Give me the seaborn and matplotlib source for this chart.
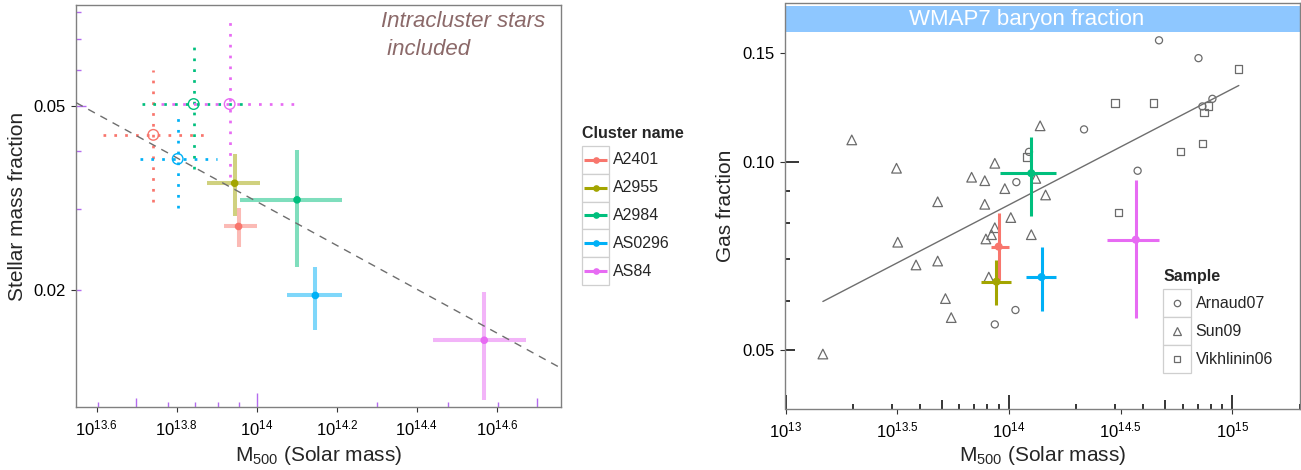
"""Stellar and gas mass fractions against M500 for five galaxy clusters."""

import math

import matplotlib

matplotlib.use("Agg")
import matplotlib.pyplot as plt
import pandas as pd
import seaborn as sns
from matplotlib.patches import Rectangle
from matplotlib.ticker import NullLocator

# the five clusters, same order in both panels
clusters = ["A2401", "A2955", "A2984", "AS0296", "AS84"]
cluster_colors = ["#F8766D", "#A3A500", "#00BF7D", "#00B0F6", "#E76BF3"]

m500 = [9.0e13, 8.8e13, 1.26e14, 1.40e14, 3.70e14]
m500_lo = [8.3e13, 7.5e13, 9.1e13, 1.19e14, 2.75e14]
m500_hi = [1.00e14, 1.02e14, 1.63e14, 1.63e14, 4.70e14]

# stellar fraction, galaxies only
fstar = [0.0275, 0.0341, 0.0314, 0.0195, 0.0156]
fstar_lo = [0.0248, 0.0289, 0.0225, 0.0164, 0.0116]
fstar_hi = [0.0301, 0.0394, 0.0403, 0.0225, 0.0198]

# stellar fraction with intracluster light (no value for A2955)
icl_clusters = ["A2401", "A2984", "AS0296", "AS84"]
icl_m500 = [5.51e13, 6.95e13, 6.34e13, 8.55e13]
icl_m500_lo = [4.13e13, 5.15e13, 5.09e13, 5.77e13]
icl_m500_hi = [7.43e13, 9.48e13, 7.94e13, 1.28e14]
icl_fstar = [0.0434, 0.0506, 0.0385, 0.0506]
icl_fstar_lo = [0.0311, 0.0367, 0.0301, 0.0352]
icl_fstar_hi = [0.0600, 0.0698, 0.0488, 0.0762]

# gas fraction
fgas = [0.0733, 0.0644, 0.0961, 0.0655, 0.0752]
fgas_lo = [0.0649, 0.0591, 0.0821, 0.0577, 0.0563]
fgas_hi = [0.0829, 0.0697, 0.1100, 0.0731, 0.0937]

# literature samples
arnaud_m500 = [4.70e14, 7.06e14, 7.35e14, 8.15e14, 2.17e14, 1.23e14, 3.77e14, 1.08e14, 8.65e13, 1.07e14]
arnaud_fgas = [0.157, 0.147, 0.123, 0.1265, 0.113, 0.104, 0.097, 0.093, 0.055, 0.058]
sun_m500 = [1.98e13, 3.14e13, 8.65e13, 6.81e13, 7.80e13, 4.80e13, 7.80e13, 3.18e13,
            3.84e13, 4.80e13, 7.89e13, 8.36e13, 8.65e13, 8.13e13, 5.20e13, 5.52e13,
            1.47e13, 9.59e13, 1.46e14, 1.02e14, 1.26e14, 1.38e14, 1.32e14]
sun_fgas = [0.1087, 0.0979, 0.0997, 0.0947, 0.0935, 0.0865, 0.0857, 0.0745,
            0.0685, 0.0695, 0.0754, 0.0766, 0.0786, 0.0655, 0.0605, 0.0564,
            0.0493, 0.0908, 0.0887, 0.0816, 0.0766, 0.1145, 0.0943]
vikh_m500 = [2.99e14, 4.45e14, 7.83e14, 7.46e14, 1.20e14, 5.87e14, 7.36e14, 3.10e14, 1.07e15]
vikh_fgas = [0.1245, 0.1245, 0.1232, 0.1202, 0.1021, 0.1041, 0.1072, 0.0832, 0.1412]
samples = ["Arnaud07", "Sun09", "Vikhlinin06"]
sample_markers = ["o", "^", "s"]

# log-log fits: log10 f = a + b * (log10 M - 14)
fstar_fit = (-1.507, -0.474)
fgas_fit = (-1.068, 0.186)

wmap7_band = (0.162, 0.178)
left_xtick_exp = ["13.6", "13.8", "14", "14.2", "14.4", "14.6"]
left_yticks = [0.02, 0.05]
right_xtick_exp = ["13", "13.5", "14", "14.5", "15"]
right_yticks = [0.05, 0.10, 0.15]

sns.set_theme(style="white")
plt.rcParams["font.family"] = ["Liberation Sans", "DejaVu Sans"]
plt.rcParams.update({
    "mathtext.fontset": "custom",
    "mathtext.rm": "Liberation Sans",
    "mathtext.it": "Liberation Sans:italic",
    "mathtext.bf": "Liberation Sans:bold",
    "mathtext.default": "regular",
})

W, H = 1301, 470
GREY = "#6B6B6B"
fig = plt.figure(figsize=(W / 100, H / 100), dpi=100)


def px_axes(x0, y0, x1, y1):
    return fig.add_axes([x0 / W, 1 - y1 / H, (x1 - x0) / W, (y1 - y0) / H])


def fit_line(fit, masses):
    return [10 ** (fit[0] + fit[1] * (math.log10(m) - 14)) for m in masses]


def style_axes(ax):
    for spine in ax.spines.values():
        spine.set_color("#808080")
        spine.set_linewidth(1.0)
    ax.xaxis.set_minor_locator(NullLocator())
    ax.yaxis.set_minor_locator(NullLocator())
    ax.tick_params(which="major", length=3.3, width=0.8, color="#333333",
                   labelsize=12, labelcolor="black", bottom=True, left=True)
    ax.tick_params(axis="y", pad=4.3)
    ax.tick_params(axis="x", pad=5.0)


def log_ticks(ax, axis, decades, color, size_px, lw):
    lengths = {1: 14, 5: 9.5}
    for d in decades:
        for k in range(1, 10):
            v = k * 10.0 ** d
            frac = lengths.get(k, 5) / size_px
            if axis == "x":
                ax.plot([v, v], [0, frac], transform=ax.get_xaxis_transform(),
                        color=color, lw=lw, solid_capstyle="butt", zorder=1)
            else:
                ax.plot([0, frac], [v, v], transform=ax.get_yaxis_transform(),
                        color=color, lw=lw, solid_capstyle="butt", zorder=1)


def cross(ax, x, xlo, xhi, y, ylo, yhi, color, **kw):
    ax.plot([xlo, xhi], [y, y], color=color, **kw)
    ax.plot([x, x], [ylo, yhi], color=color, **kw)


# ---------------- left panel: stellar mass fraction ----------------
ax1 = px_axes(76, 4.7, 561, 407.3)
ax1.set_xscale("log")
ax1.set_yscale("log")
ax1.set_xlim(10 ** 13.548, 10 ** 14.760)
ax1.set_ylim(0.01117, 0.0830)

xl = list(ax1.get_xlim())
ax1.plot(xl, fit_line(fstar_fit, xl), color="#6E6E6E", lw=1.0, dashes=(5.5, 4.5), zorder=3)

for i, c in enumerate(clusters):
    cross(ax1, m500[i], m500_lo[i], m500_hi[i], fstar[i], fstar_lo[i], fstar_hi[i],
          cluster_colors[i], lw=2.9, alpha=0.5, solid_capstyle="butt", zorder=2)
stars = pd.DataFrame({"cluster": clusters, "m500": m500, "fstar": fstar})
sns.scatterplot(data=stars, x="m500", y="fstar", hue="cluster", palette=cluster_colors,
                s=30, linewidth=0, legend=False, ax=ax1, zorder=4)

icl_colors = [cluster_colors[clusters.index(c)] for c in icl_clusters]
for i, c in enumerate(icl_clusters):
    cross(ax1, icl_m500[i], icl_m500_lo[i], icl_m500_hi[i], icl_fstar[i], icl_fstar_lo[i],
          icl_fstar_hi[i], icl_colors[i], lw=1.95, dashes=(1, 3), zorder=2)
icl = pd.DataFrame({"cluster": icl_clusters, "m500": icl_m500, "fstar": icl_fstar})
sns.scatterplot(data=icl, x="m500", y="fstar", hue="cluster", palette=icl_colors,
                s=58, linewidth=1.0, legend=False, ax=ax1, zorder=4)
rings = ax1.collections[-1]
rings.set_edgecolors(rings.get_facecolors())
rings.set_facecolors("none")

ax1.text(10 ** 14.309, 10 ** -1.094, "Intracluster stars\n included", fontsize=16,
         style="italic", color="#8B6969", ha="left", va="top", linespacing=1.45)

style_axes(ax1)
ax1.set_xticks([10 ** float(e) for e in left_xtick_exp])
ax1.set_xticklabels([f"$10^{{{e}}}$" for e in left_xtick_exp])
ax1.set_yticks(left_yticks)
ax1.set_yticklabels([f"{v:.2f}" for v in left_yticks])
log_ticks(ax1, "x", [13, 14], "#B36BEF", 402.6, 1.0)
log_ticks(ax1, "y", [-2, -1], "#B36BEF", 484.9, 1.0)
ax1.set_xlabel("M$_{500}$ (Solar mass)", fontsize=15)
ax1.set_ylabel("Stellar mass fraction", fontsize=15)
ax1.xaxis.set_label_coords(0.5, -0.1185)
ax1.xaxis.label.set_va("center")
ax1.yaxis.set_label_coords(-0.12, 0.5)
ax1.yaxis.label.set_va("center")

# ---------------- right panel: gas fraction ----------------
ax2 = px_axes(785.5, 3.3, 1299.5, 409.3)
ax2.set_xscale("log")
ax2.set_yscale("log")
ax2.set_xlim(1e13, 2e15)
ax2.set_ylim(0.0402, 0.180)

ax2.axhspan(*wmap7_band, color="#8EC7FF", lw=0, zorder=0)
ax2.text(1.2e14, 0.1695, "WMAP7 baryon fraction", color="white", fontsize=16,
         ha="center", va="center", zorder=1)

lit = pd.concat([
    pd.DataFrame({"sample": "Arnaud07", "m500": arnaud_m500, "fgas": arnaud_fgas}),
    pd.DataFrame({"sample": "Sun09", "m500": sun_m500, "fgas": sun_fgas}),
    pd.DataFrame({"sample": "Vikhlinin06", "m500": vikh_m500, "fgas": vikh_fgas}),
])
for name, marker, size in zip(samples, sample_markers, [26, 48, 28]):
    sub = lit[lit["sample"] == name]
    sns.scatterplot(data=sub, x="m500", y="fgas", marker=marker, s=size, color=GREY,
                    linewidth=0.9, legend=False, ax=ax2, zorder=2)
    pts = ax2.collections[-1]
    pts.set_facecolors("none")
    pts.set_edgecolors(GREY)

fit_x = [lit["m500"].min(), lit["m500"].max()]
ax2.plot(fit_x, fit_line(fgas_fit, fit_x), color="#6E6E6E", lw=1.0, zorder=3)

for i, c in enumerate(clusters):
    cross(ax2, m500[i], m500_lo[i], m500_hi[i], fgas[i], fgas_lo[i], fgas_hi[i],
          cluster_colors[i], lw=2.2, solid_capstyle="butt", zorder=4)
gas = pd.DataFrame({"cluster": clusters, "m500": m500, "fgas": fgas})
sns.scatterplot(data=gas, x="m500", y="fgas", hue="cluster", palette=cluster_colors,
                s=34, linewidth=0, legend=False, ax=ax2, zorder=5)

style_axes(ax2)
ax2.set_xticks([10 ** float(e) for e in right_xtick_exp])
ax2.set_xticklabels([f"$10^{{{e}}}$" for e in right_xtick_exp])
ax2.set_yticks(right_yticks)
ax2.set_yticklabels([f"{v:.2f}" for v in right_yticks])
log_ticks(ax2, "x", [13, 14, 15], "black", 406, 1.1)
log_ticks(ax2, "y", [-2, -1], "black", 514, 1.1)
ax2.set_xlabel("M$_{500}$ (Solar mass)", fontsize=15)
ax2.set_ylabel("Gas fraction", fontsize=15)
ax2.xaxis.set_label_coords(0.5, -0.1126)
ax2.xaxis.label.set_va("center")
ax2.yaxis.set_label_coords(-0.1176, 0.5)
ax2.yaxis.label.set_va("center")

# ---------------- legends, drawn in figure pixels ----------------
ov = fig.add_axes([0, 0, 1, 1])
ov.set_xlim(0, W)
ov.set_ylim(H, 0)
ov.axis("off")


def key_box(x0, y0):
    ov.add_patch(Rectangle((x0, y0), 27.7, 27.9, fc="white", ec="#CFCFCF", lw=0.9))


ov.text(581.7, 133, "Cluster name", fontsize=11.5, fontweight="bold", va="center", ha="left")
for i, c in enumerate(clusters):
    y0 = 145.7 + i * 27.9
    key_box(581.7, y0)
    yc = y0 + 13.95
    ov.plot([584.2, 606.8], [yc, yc], color=cluster_colors[i], lw=2.2, solid_capstyle="butt")
    ov.plot([595.5], [yc], "o", ms=4.8, color=cluster_colors[i], mec="none")
    ov.text(612.7, yc, c, fontsize=11.5, va="center", ha="left")

ov.text(1163.3, 276.7, "Sample", fontsize=11.5, fontweight="bold", va="center", ha="left")
for i, (name, marker) in enumerate(zip(samples, sample_markers)):
    y0 = 289.3 + i * 27.9
    key_box(1163.3, y0)
    yc = y0 + 13.95
    ov.plot([1177.1], [yc], marker, ms=4.6 if marker != "^" else 6.0, mfc="none", mec=GREY, mew=0.9)
    ov.text(1195.5, yc, name, fontsize=11.5, va="center", ha="left")

fig.savefig("out.png", dpi=100)
